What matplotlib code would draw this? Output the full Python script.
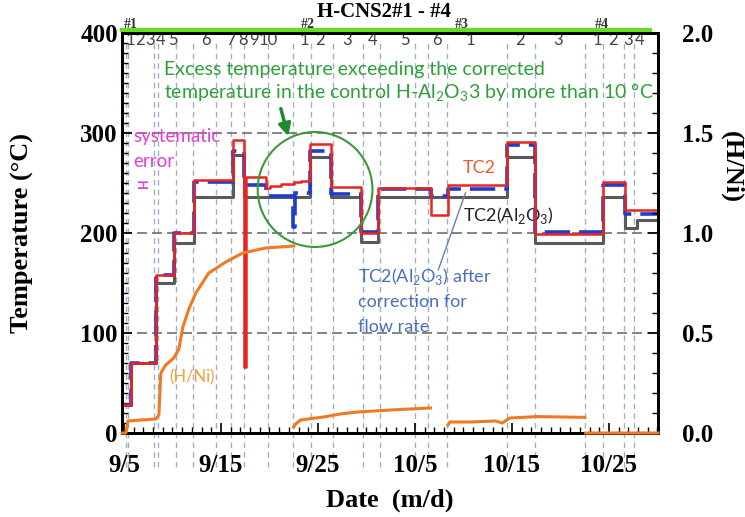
import numpy as np
import matplotlib.pyplot as plt
from matplotlib.ticker import MultipleLocator, FormatStrFormatter
from matplotlib.patches import Ellipse

# ---- data (days counted from 9/5) ----
date_ticks = [0, 10, 20, 30, 40, 50]
date_labels = ["9/5", "9/15", "9/25", "10/5", "10/15", "10/25"]

# TC2 (red)
tc2_day = [-0.2, 0.72, 3.29, 5.14, 7.20, 11.21, 12.35, 12.6, 14.6, 15.1, 16.2, 17.5,
           18.2, 19.2, 21.3, 24.4, 26.2, 31.6, 33.4, 39.5, 42.4, 49.4, 51.6, 55.05]
tc2_val = [28, 70, 158, 200, 253, 293, 66, 256, 245, 247, 249, 251,
           252, 289, 246, 200, 245, 218, 248, 291, 199, 251, 223, 223]

# TC2(Al2O3) after correction for flow rate (blue)
cor_day = [-0.2, 0.72, 3.29, 5.14, 7.20, 11.21, 12.35, 14.6, 17.4, 17.6, 19.2, 21.3,
           24.4, 26.2, 31.6, 33.4, 39.5, 42.4, 49.4, 51.6, 55.05]
cor_val = [28, 70, 158, 200, 251, 282, 248, 237, 206, 240, 282, 239,
           201, 244, 237, 244, 288, 201, 248, 219, 219]

# TC2(Al2O3) (gray)
al_day = [-0.2, 0.72, 3.29, 5.14, 7.20, 11.21, 12.35, 19.2, 21.3, 24.4, 26.2,
          39.5, 42.4, 49.4, 51.6, 52.9, 55.05]
al_val = [28, 70, 150, 190, 236, 278, 236, 276, 236, 191, 236,
          276, 190, 236, 205, 213, 213]

# H/Ni (orange, right axis)
hni_day = [-0.2, 0.2, 0.4, 1.75, 3.29, 3.6, 3.8, 4.3, 5.14, 5.66, 6.07, 6.69, 7.41,
           8.74, 10.5, 12.24, 14.6, 17.5, np.nan,
           17.5, 17.7, 18.2, 20.6, 22.3, 24.1, 27.5, 31.6, np.nan,
           33.4, 33.6, 35.7, 38.3, 39.0, 39.8, 42.6, 47.5, np.nan,
           47.6, 55.05]
hni_val = [0, 0, 0.06, 0.065, 0.07, 0.09, 0.30, 0.34, 0.375, 0.42, 0.53, 0.62, 0.70,
           0.80, 0.855, 0.90, 0.925, 0.935, np.nan,
           0.03, 0.045, 0.065, 0.08, 0.095, 0.105, 0.115, 0.125, np.nan,
           0.04, 0.055, 0.055, 0.06, 0.05, 0.075, 0.082, 0.078, np.nan,
           0, 0]

# stage boundaries and stage numbers
stage_lines = [0.21, 0.41, 3.09, 3.50, 5.35, 7.10, 9.47, 11.01, 12.35, 14.81, 17.39,
               19.24, 21.50, 24.59, 26.44, 30.04, 31.38, 33.33, 39.51, 42.39, 47.53,
               49.38, 51.54, 52.57]
stage_pos = [0.62, 1.65, 2.67, 3.75, 5.0, 8.44, 11.01, 12.24, 13.37, 14.92,
             18.62, 20.16, 23.05, 25.62, 29.01, 32.30,
             35.70, 40.84, 44.75,
             48.77, 50.41, 51.95, 53.19]
stage_txt = ["1", "2", "3", "4", "5", "6", "7", "8", "9", "10",
             "1", "2", "3", "4", "5", "6",
             "1", "2", "3",
             "1", "2", "3", "4"]
group_pos = [0.72, 19.0, 34.8, 49.3]
group_txt = ["#1", "#2", "#3", "#4"]

serif = "Liberation Serif"
sans = "Lato"

fig = plt.figure(figsize=(7.45, 5.17), dpi=100)
ax = fig.add_axes([0.1638, 0.1625, 0.7194, 0.7737])
ax2 = ax.twinx()

# grid-like guides
for d in stage_lines:
    ax.axvline(d, ymin=-0.085, ymax=0.985, color="#9fb0c4", lw=1,
               dashes=(4, 3), clip_on=False, zorder=0)
for t in (100, 200, 300):
    ax.axhline(t, color="#707070", lw=1.2, dashes=(6, 3), zorder=1)

ax.step(al_day, al_val, where="post", color="#5a5a5a", lw=2.2, zorder=3)
ax.step(cor_day, cor_val, where="post", color="#1f3ccf", lw=2.6,
        dashes=(7, 2.5), zorder=4)
ax.step(tc2_day, tc2_val, where="post", color="#e8251f", lw=1.8, zorder=5)
ax2.plot(hni_day, hni_val, color="#ef7a22", lw=2.2, clip_on=False, zorder=3)

# green line along the top
ax.plot([-0.2, 54.2], [403, 403], color="#66dd22", lw=3, clip_on=False, zorder=6)

ax.set_xlim(-0.2, 55.05)
ax.set_ylim(0, 400)
ax2.set_ylim(0, 2.0)

ax.set_xticks(date_ticks)
ax.set_xticklabels(date_labels)
ax.xaxis.set_minor_locator(MultipleLocator(1))
ax.set_yticks([0, 100, 200, 300, 400])
ax.yaxis.set_minor_locator(MultipleLocator(10))
ax.tick_params(which="both", direction="in", top=False, right=False)
ax.tick_params(which="major", length=7, width=1.2)
ax.tick_params(which="minor", length=4, width=1)
ax.tick_params(axis="x", pad=15)
ax.tick_params(axis="y", pad=3)

ax2.set_yticks([0, 0.5, 1.0, 1.5, 2.0])
ax2.yaxis.set_minor_locator(MultipleLocator(0.1))
ax2.yaxis.set_major_formatter(FormatStrFormatter("%.1f"))
ax2.tick_params(which="both", direction="in")
ax2.tick_params(which="major", length=7, width=1.2, pad=17)
ax2.tick_params(which="minor", length=4, width=1)

for lbl in ax.get_xticklabels() + ax.get_yticklabels() + ax2.get_yticklabels():
    lbl.set_fontfamily(serif)
    lbl.set_fontweight("bold")
    lbl.set_fontsize(18)

for a in (ax, ax2):
    for s in a.spines.values():
        s.set_linewidth(2)

# stage numbers and group marks
trans = ax.get_xaxis_transform()
for p, s in zip(stage_pos, stage_txt):
    ax.text(p, 0.982, s, transform=trans, ha="center", va="center",
            fontsize=12, family=sans, color="#444444")
for p, s in zip(group_pos, group_txt):
    ax.text(p, 1.02, s, transform=trans, ha="center", va="center",
            fontsize=10, family=serif, fontweight="bold", color="#333333",
            zorder=7)

# annotations
ax.text(4.1, 363, "Excess temperature exceeding the corrected",
        fontsize=14, family=sans, color="#2ea03a", va="center")
ax.text(4.1, 340, r"temperature in the control H-Al$_\mathregular{2}$O$_\mathregular{3}$3 by more than 10 °C",
        fontsize=14, family=sans, color="#2ea03a", va="center")
ax.annotate("", xy=(17.0, 294), xytext=(16.1, 327),
            arrowprops=dict(arrowstyle="-|>", color="#1c8c2c", lw=2.5,
                            mutation_scale=18))
ax.add_patch(Ellipse((19.7, 243.5), 11.83, 115, fill=False,
                     edgecolor="#3a9a3a", lw=1.5, zorder=7))

ax.text(1.0, 296, "systematic", fontsize=13.5, family=sans, color="#e040d0", va="center")
ax.text(1.0, 271, "error", fontsize=13.5, family=sans, color="#e040d0", va="center")
ax.text(2.06, 250, "H", fontsize=9, family=sans, color="#e040d0", fontweight="bold",
        rotation=90, ha="center", va="center")

ax.text(36.6, 265, "TC2", fontsize=13, family=sans, color="#f05a28",
        ha="center", va="center")
ax.text(35.0, 217, r"TC2(Al$_\mathregular{2}$O$_\mathregular{3}$)", fontsize=13,
        family=sans, color="#222222", va="center")
ax.text(24.1, 156, r"TC2(Al$_\mathregular{2}$O$_\mathregular{3}$) after", fontsize=13,
        family=sans, color="#4a6fc0", va="center")
ax.text(24.1, 131, "correction for", fontsize=13, family=sans, color="#4a6fc0",
        va="center")
ax.text(24.1, 106, "flow rate", fontsize=13, family=sans, color="#4a6fc0",
        va="center")
ax.plot([32.4, 35.2], [163, 240], color="#6a7fb0", lw=1, zorder=6)
ax.text(7.0, 56, "(H/Ni)", fontsize=12, family=sans, color="#f0a040",
        ha="center", va="center")

# axis titles
fig.text(0.515, 0.976, "H-CNS2#1 - #4", family=serif, fontweight="bold",
         fontsize=15, ha="center", va="center")
fig.text(0.523, 0.033, "Date  (m/d)", family=serif, fontweight="bold",
         fontsize=19, ha="center", va="center")
fig.text(0.03, 0.549, "Temperature (°C)", family=serif, fontweight="bold",
         fontsize=19, ha="center", va="center", rotation=90)
fig.text(0.9826, 0.677, "(H/Ni)", family=serif, fontweight="bold",
         fontsize=19, ha="center", va="center", rotation=-90)

fig.savefig("out.png", dpi=100)
